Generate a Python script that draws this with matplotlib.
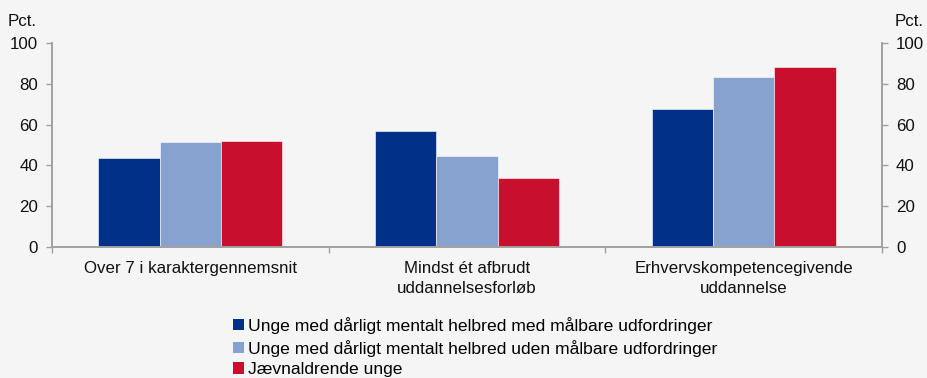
import numpy as np
import matplotlib.pyplot as plt
from matplotlib.patches import Patch

plt.rcParams['font.family'] = ['Liberation Sans', 'DejaVu Sans']

categories = ['Over 7 i karaktergennemsnit',
              'Mindst ét afbrudt\nuddannelsesforløb',
              'Erhvervskompetencegivende\nuddannelse']
series_names = ['Unge med dårligt mentalt helbred med målbare udfordringer',
                'Unge med dårligt mentalt helbred uden målbare udfordringer',
                'Jævnaldrende unge']
maalbare = [43.5, 57, 67.5]
uden_maalbare = [51.5, 44.5, 83.5]
jaevnaldrende = [52, 34, 88]
yticks = [0, 20, 40, 60, 80, 100]

colors = ['#003087', '#88a2cf', '#c8102e']
bg = '#f5f5f5'
spine_col = '#a0a0a0'
txt = '#111111'
fs = 12.2

fig = plt.figure(figsize=(9.28, 3.78), dpi=100, facecolor=bg)
ax = fig.add_axes([52 / 928, 1 - 247 / 378, 830 / 928, 204 / 378], facecolor=bg)

x = np.arange(len(categories))
w = 0.222
for i, (vals, c) in enumerate(zip([maalbare, uden_maalbare, jaevnaldrende], colors)):
    ax.bar(x + (i - 1) * w, vals, w, color=c, edgecolor='#ffffff', linewidth=0.4, zorder=2)

ax.set_xlim(-0.5, len(categories) - 0.5)
ax.set_ylim(0, 100)
ax.set_yticks(yticks)
ax.tick_params(axis='y', length=4, width=1, color=spine_col, labelsize=fs, pad=6,
               labelcolor=txt)

ax.set_xticks(x)
ax.set_xticklabels(categories, fontsize=fs, color=txt, linespacing=1.45)
ax.tick_params(axis='x', length=0, pad=10)
# small separators between the groups
ax.set_xticks(np.arange(len(categories) + 1) - 0.5, minor=True)
ax.tick_params(axis='x', which='minor', length=4, width=1, color=spine_col)

ax2 = ax.twinx()
ax2.set_ylim(0, 100)
ax2.set_yticks(yticks)
ax2.tick_params(axis='y', length=4, width=1, color=spine_col, labelsize=fs, pad=6,
                labelcolor=txt)

for a in (ax, ax2):
    a.spines['top'].set_visible(False)
    for s in ('left', 'right', 'bottom'):
        a.spines[s].set_color(spine_col)
        a.spines[s].set_linewidth(1.2)

fig.text(8 / 928, 1 - 21 / 378, 'Pct.', fontsize=fs, va='center', ha='left', color=txt)
fig.text(895 / 928, 1 - 21 / 378, 'Pct.', fontsize=fs, va='center', ha='left', color=txt)

handles = [Patch(facecolor=c, edgecolor='none') for c in colors]
fig.legend(handles, series_names, loc='upper left', bbox_to_anchor=(233 / 928, 1 - 317 / 378),
           frameon=False, fontsize=12.6, handlelength=0.62, handleheight=0.62,
           handletextpad=0.25, labelspacing=0.32, borderaxespad=0, borderpad=0)

fig.savefig('out.png', dpi=100, facecolor=bg)
